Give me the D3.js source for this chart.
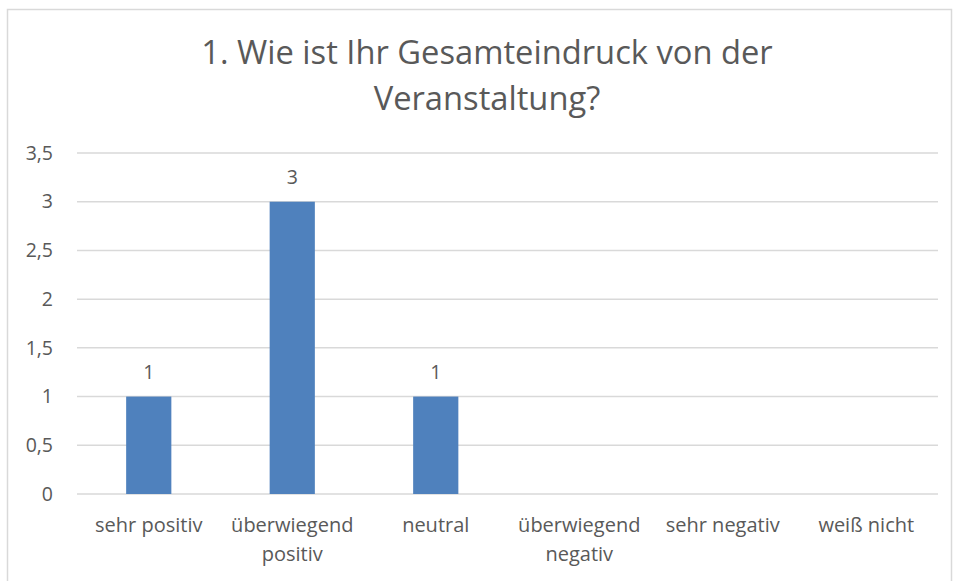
<!DOCTYPE html>
<html>
<head>
<meta charset="utf-8">
<script src="https://cdn.jsdelivr.net/npm/d3@7"></script>
<style>
  html, body { margin: 0; padding: 0; background: #fff; }
  svg { display: block; }
  text { font-family: "Open Sans", "Noto Sans", sans-serif; fill: #595959; }
</style>
</head>
<body>
<div id="chart"></div>
<script>
// Data
const categories = [["sehr positiv"], ["überwiegend", "positiv"], ["neutral"], ["überwiegend", "negativ"], ["sehr negativ"], ["weiß nicht"]];
const values = [1, 3, 1, null, null, null];
const yTicks = [0, 0.5, 1, 1.5, 2, 2.5, 3, 3.5];
const titleLines = ["1. Wie ist Ihr Gesamteindruck von der", "Veranstaltung?"];

const width = 954;
const height = 581;
const margin = {top: 153, right: 16, bottom: 87, left: 77};
const innerWidth = width - margin.left - margin.right;
const innerHeight = height - margin.top - margin.bottom;

const svg = d3.select("#chart")
  .append("svg")
    .attr("width", width)
    .attr("height", height);

// chart border (bottom edge lies outside the picture)
svg.append("path")
  .attr("d", "M7.5,581 V9.5 H951.5 V581")
  .attr("fill", "none")
  .attr("stroke", "#d9d9d9")
  .attr("stroke-width", 1.5);

// title
svg.append("text")
  .attr("x", 487)
  .attr("y", 64)
  .attr("text-anchor", "middle")
  .attr("font-size", 32.7)
  .selectAll("tspan")
  .data(titleLines)
  .join("tspan")
    .attr("x", 487)
    .attr("dy", (d, i) => i === 0 ? 0 : 46)
    .text(d => d);

const inner = svg.append("g")
  .attr("transform", `translate(${margin.left}, ${margin.top})`);

// scales
const xScale = d3.scaleBand()
  .domain(d3.range(categories.length))
  .range([0, innerWidth]);

const yScale = d3.scaleLinear()
  .domain([0, 3.5])
  .range([innerHeight, 0]);

const fmt = d => String(d).replace(".", ",");

// gridlines
inner.append("g")
  .selectAll("line")
  .data(yTicks)
  .join("line")
    .attr("x1", 0)
    .attr("x2", innerWidth)
    .attr("y1", d => yScale(d))
    .attr("y2", d => yScale(d))
    .attr("stroke", "#d9d9d9")
    .attr("stroke-width", 1.5);

// y axis labels
const leftAxis = d3.axisLeft(yScale)
  .tickValues(yTicks)
  .tickFormat(fmt)
  .tickSize(0)
  .tickPadding(24);
const yAxis = inner.append("g").call(leftAxis);
yAxis.select(".domain").remove();
yAxis.selectAll("text")
  .attr("font-size", 19.5)
  .attr("font-family", null)
  .attr("fill", null);

// bars
const barWidth = xScale.bandwidth() * 0.315;
inner.append("g")
  .selectAll("rect")
  .data(values.map((v, i) => ({i, v})).filter(d => d.v !== null))
  .join("rect")
    .attr("x", d => xScale(d.i) + xScale.bandwidth() / 2 - barWidth / 2)
    .attr("y", d => yScale(d.v))
    .attr("width", barWidth)
    .attr("height", d => innerHeight - yScale(d.v))
    .attr("fill", "#4f81bd");

// data labels
inner.append("g")
  .selectAll("text")
  .data(values.map((v, i) => ({i, v})).filter(d => d.v !== null))
  .join("text")
    .attr("x", d => xScale(d.i) + xScale.bandwidth() / 2)
    .attr("y", d => yScale(d.v) - 18)
    .attr("text-anchor", "middle")
    .attr("font-size", 19.5)
    .text(d => fmt(d.v));

// category labels
const catLabels = inner.append("g")
  .selectAll("text")
  .data(categories)
  .join("text")
    .attr("text-anchor", "middle")
    .attr("font-size", 20)
    .attr("y", innerHeight + 38);
catLabels.selectAll("tspan")
  .data((d, i) => d.map(line => ({line, i})))
  .join("tspan")
    .attr("x", d => xScale(d.i) + xScale.bandwidth() / 2)
    .attr("dy", (d, j) => j === 0 ? 0 : 29)
    .text(d => d.line);
</script>
</body>
</html>
